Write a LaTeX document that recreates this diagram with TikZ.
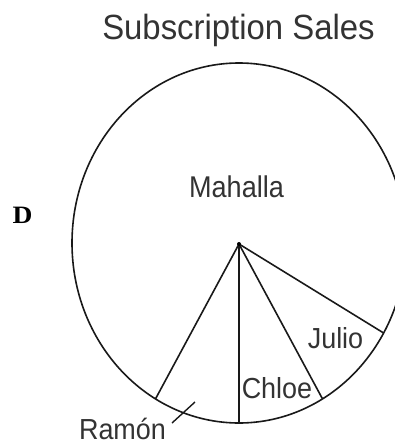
\documentclass[tikz,border=0pt]{standalone}
\usepackage{fontspec}
\setmainfont{Liberation Sans}
\newfontfamily\dserif{Liberation Serif}
\usetikzlibrary{calc}
\begin{document}
\begin{tikzpicture}[x=1pt,y=1pt,
  pieline/.style={line width=1.6pt, black!90},
  lbl/.style={anchor=base, inner sep=0pt, text depth=0pt, font=\fontsize{29}{29}\selectfont, xscale=0.93, text=black!80},
  ttl/.style={anchor=base, inner sep=0pt, font=\fontsize{35}{35}\selectfont, xscale=0.94, text=black!80}]
\useasboundingbox (0,0) rectangle (395,-444);
\clip (0,0) rectangle (395,-444);
\coordinate (E) at (239,-243);
\coordinate (O) at (239,-244);
\coordinate (pR) at ($(E)+(240:167pt and 180pt)$);
\coordinate (pV) at ($(E)+(270:167pt and 180pt)$);
\coordinate (pC) at ($(E)+(300:167pt and 180pt)$);
\coordinate (pJ) at ($(E)+(330:167pt and 180pt)$);
\draw[pieline] (E) ellipse [x radius=167pt, y radius=180pt];
\draw[pieline] (O) -- (pR);
\draw[pieline] (O) -- (pV);
\draw[pieline] (O) -- (pC);
\draw[pieline] (O) -- (pJ);
\fill (O) circle (2pt);
\node[ttl] (title) at (238.5,-40) {Subscription Sales};
\node[lbl, font=\fontsize{30}{30}\selectfont, xscale=0.97] (mah) at (236.5,-197) {Mahalla};
\node[lbl] (jul) at (335.5,-348) {Julio};
\node[lbl] (chl) at (277,-398) {Chloe};
\node[lbl] (ram) at (122.5,-439) {Ramón};
\coordinate (lA) at (195,-402);
\coordinate (lB) at (172,-423);
\draw[line width=1.4pt, black!90] (lA) -- (lB);
\node[anchor=base, inner sep=0pt, font=\dserif\bfseries\fontsize{25}{25}\selectfont, xscale=1.1] (d) at (22.5,-223) {D};
\end{tikzpicture}
\end{document}
